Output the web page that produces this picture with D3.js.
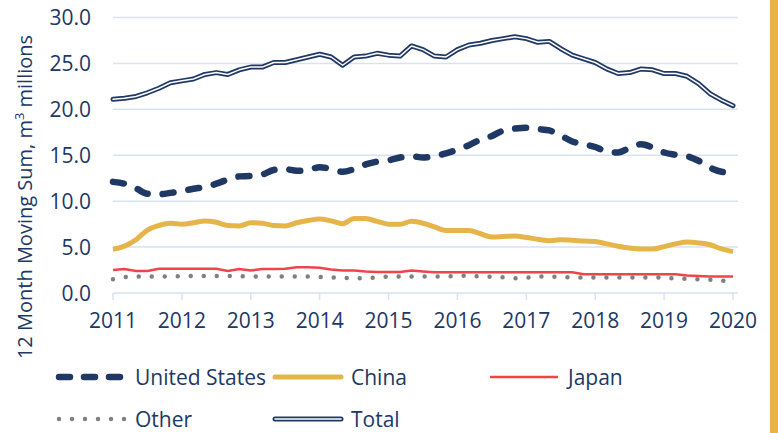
<!DOCTYPE html>
<html>
<head>
<meta charset="utf-8">
<script src="https://cdn.jsdelivr.net/npm/d3@7"></script>
<style>
  body { margin: 0; background: #fff; }
  text { font-family: "Open Sans", sans-serif; fill: #203864; }
</style>
</head>
<body>
<div id="chart"></div>
<script>
'use strict'

// bi-monthly readings, Jan 2011 .. Jan 2020
const yearTicks = [2011, 2012, 2013, 2014, 2015, 2016, 2017, 2018, 2019, 2020]
const valueTicks = [0, 5, 10, 15, 20, 25, 30]

const unitedStates = [12.1, 11.9, 11.4, 10.8, 10.75, 10.9, 11.1, 11.35, 11.55, 11.9, 12.35, 12.7, 12.75, 12.9,
  13.4, 13.5, 13.3, 13.4, 13.7, 13.5, 13.2, 13.5, 14.0, 14.3, 14.45, 14.75, 14.9, 14.75, 14.9, 15.2,
  15.6, 16.1, 16.7, 17.1, 17.7, 17.9, 18.0, 17.85, 17.7, 17.15, 16.5, 16.2, 15.9, 15.4, 15.3, 15.8,
  16.2, 15.85, 15.3, 15.05, 14.9, 14.4, 13.65, 13.2, 13.1]

const china = [4.75, 5.1, 5.8, 6.85, 7.35, 7.6, 7.5, 7.65, 7.85, 7.7, 7.35, 7.3, 7.65, 7.6, 7.35, 7.3,
  7.65, 7.9, 8.05, 7.85, 7.55, 8.1, 8.1, 7.8, 7.5, 7.5, 7.8, 7.6, 7.2, 6.8, 6.8, 6.8, 6.45, 6.1,
  6.15, 6.2, 6.05, 5.85, 5.7, 5.8, 5.75, 5.65, 5.6, 5.35, 5.1, 4.9, 4.8, 4.8, 5.05, 5.35, 5.55,
  5.45, 5.25, 4.8, 4.5]

const japan = [2.5, 2.6, 2.4, 2.4, 2.65, 2.65, 2.65, 2.65, 2.65, 2.65, 2.4, 2.6, 2.45, 2.6, 2.6, 2.65,
  2.8, 2.8, 2.75, 2.55, 2.45, 2.45, 2.35, 2.3, 2.3, 2.3, 2.45, 2.35, 2.25, 2.25, 2.25, 2.25, 2.25,
  2.25, 2.25, 2.25, 2.25, 2.25, 2.25, 2.25, 2.25, 2.05, 2.05, 2.05, 2.05, 2.05, 2.05, 2.05, 2.05,
  2.05, 1.9, 1.85, 1.8, 1.8, 1.8]

const other = [1.5, 1.75, 1.8, 1.8, 1.8, 1.8, 1.85, 1.85, 1.85, 1.85, 1.85, 1.85, 1.8, 1.8, 1.8, 1.8,
  1.8, 1.8, 1.75, 1.7, 1.65, 1.6, 1.6, 1.7, 1.8, 1.8, 1.8, 1.8, 1.8, 1.8, 1.85, 1.9, 1.8, 1.75,
  1.7, 1.6, 1.65, 1.8, 1.8, 1.75, 1.7, 1.7, 1.7, 1.7, 1.7, 1.7, 1.7, 1.7, 1.65, 1.6, 1.55, 1.5,
  1.45, 1.35, 1.25]

const total = [21.1, 21.2, 21.4, 21.8, 22.3, 22.9, 23.1, 23.3, 23.8, 24.0, 23.8, 24.3, 24.6, 24.6,
  25.1, 25.1, 25.4, 25.7, 26.0, 25.7, 24.8, 25.7, 25.8, 26.1, 25.9, 25.8, 26.9, 26.5, 25.8, 25.7,
  26.5, 27.0, 27.2, 27.5, 27.7, 27.9, 27.7, 27.3, 27.4, 26.6, 25.9, 25.5, 25.1, 24.4, 23.9, 24.0,
  24.4, 24.3, 23.9, 23.9, 23.6, 22.8, 21.7, 21.0, 20.4]

////////////////////////////////////
//////////// svg setup /////////////
////////////////////////////////////

const svgWidth = 778, svgHeight = 433
const plot = { left: 113, right: 733, gridRight: 738, top: 17.5, bottom: 293 }

const svg = d3.select('#chart')
  .append('svg')
  .attr('width', svgWidth)
  .attr('height', svgHeight)

const x = d3.scaleLinear().domain([2011, 2020]).range([plot.left, plot.right])
const y = d3.scaleLinear().domain([0, 30]).range([plot.bottom, plot.top])

const navy = '#203864', gold = '#E6B54A', red = '#F0434A', grey = '#808080', gridColor = '#D9E1F2'

// gold strip at the right edge
svg.append('rect')
  .attr('x', 770).attr('y', 0)
  .attr('width', 8).attr('height', svgHeight)
  .style('fill', '#E5B348')

// gridlines
svg.append('g')
  .selectAll('line')
  .data(valueTicks.filter(d => d > 0))
  .join('line')
  .attr('x1', plot.left).attr('x2', plot.gridRight)
  .attr('y1', d => y(d)).attr('y2', d => y(d))
  .style('stroke', gridColor).style('stroke-width', 1.5)

// y axis labels
svg.append('g')
  .selectAll('text')
  .data(valueTicks)
  .join('text')
  .attr('x', 91)
  .attr('y', d => y(d))
  .attr('dy', '0.36em')
  .attr('text-anchor', 'end')
  .style('font-size', '21px')
  .text(d => d.toFixed(1))

// x axis
const xAxis = svg.append('g').attr('transform', `translate(0,${plot.bottom})`)
xAxis.append('line')
  .attr('x1', plot.left).attr('x2', plot.gridRight)
  .style('stroke', gridColor).style('stroke-width', 1.5)
xAxis.selectAll('.tick')
  .data(yearTicks)
  .join('line')
  .attr('class', 'tick')
  .attr('x1', d => x(d)).attr('x2', d => x(d))
  .attr('y1', 0).attr('y2', 7)
  .style('stroke', gridColor).style('stroke-width', 1.5)
xAxis.selectAll('text')
  .data(yearTicks)
  .join('text')
  .attr('x', d => x(d))
  .attr('y', 35)
  .attr('text-anchor', 'middle')
  .style('font-size', '21px')
  .text(d => d)

// y axis title
const title = svg.append('text')
  .attr('transform', 'translate(32,197) rotate(-90)')
  .attr('text-anchor', 'middle')
  .style('font-size', '20px')
title.append('tspan').text('12 Month Moving Sum, m')
title.append('tspan').attr('dy', -8).style('font-size', '13px').text('3')
title.append('tspan').attr('dy', 8).text(' millions')

////////////////////////////////////
//////////// the lines /////////////
////////////////////////////////////

const line = d3.line()
  .x((d, i) => x(2011 + i / 6))
  .y(d => y(d))

const lines = svg.append('g').style('fill', 'none')

lines.append('path').attr('d', line(other))
  .style('stroke', grey).style('stroke-width', 4.5)
  .style('stroke-linecap', 'round').style('stroke-dasharray', '0,13')

lines.append('path').attr('d', line(japan))
  .style('stroke', red).style('stroke-width', 2.5)

lines.append('path').attr('d', line.curve(d3.curveMonotoneX)(china))
  .style('stroke', gold).style('stroke-width', 5)

lines.append('path').attr('d', line(unitedStates))
  .style('stroke', navy).style('stroke-width', 6.5)
  .style('stroke-linecap', 'round').style('stroke-dasharray', '11,15')

line.curve(d3.curveLinear)
lines.append('path').attr('d', line(total))
  .style('stroke', navy).style('stroke-width', 5)
  .style('stroke-linejoin', 'round').style('stroke-linecap', 'round')
lines.append('path').attr('d', line(total))
  .style('stroke', '#fff').style('stroke-width', 1.5)
  .style('stroke-linejoin', 'round').style('stroke-linecap', 'round')

////////////////////////////////////
//////////// legend ////////////////
////////////////////////////////////

const legendItems = [
  { name: 'United States', x: 57, y: 377, color: navy, width: 6.5, dash: '11,14', cap: 'round' },
  { name: 'China', x: 273, y: 377, color: gold, width: 5, dash: null, cap: 'round' },
  { name: 'Japan', x: 490, y: 377, color: red, width: 2.5, dash: null, cap: 'butt' },
  { name: 'Other', x: 57, y: 419, color: grey, width: 4.5, dash: '0,13', cap: 'round' },
  { name: 'Total', x: 273, y: 419, color: navy, width: 5, dash: null, cap: 'round', double: true }
]

const legend = svg.append('g')
legendItems.forEach(d => {
  const g = legend.append('g')
  g.append('line')
    .attr('x1', d.x + (d.cap === 'round' ? 2 : 0)).attr('x2', d.x + 68)
    .attr('y1', d.y).attr('y2', d.y)
    .style('stroke', d.color).style('stroke-width', d.width)
    .style('stroke-linecap', d.cap)
    .style('stroke-dasharray', d.dash)
  if (d.double) {
    g.append('line')
      .attr('x1', d.x + 2).attr('x2', d.x + 68)
      .attr('y1', d.y).attr('y2', d.y)
      .style('stroke', '#fff').style('stroke-width', 1.5)
      .style('stroke-linecap', 'round')
  }
  g.append('text')
    .attr('x', d.x + 78)
    .attr('y', d.y)
    .attr('dy', '0.36em')
    .style('font-size', '21px')
    .text(d.name)
})
</script>
</body>
</html>
